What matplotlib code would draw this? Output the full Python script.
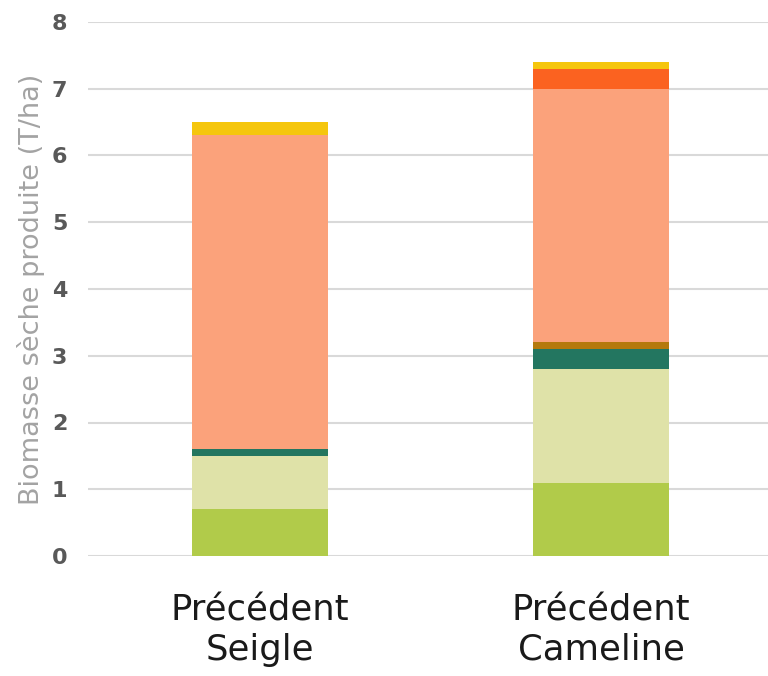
import matplotlib
matplotlib.use("Agg")
import matplotlib.pyplot as plt
import numpy as np

categories = ["Précédent\nSeigle", "Précédent\nCameline"]
segment_colors = ["#b1cb4a", "#dfe2a8", "#237660", "#b5790c", "#fba27b", "#fb6220", "#f5c60d"]
seg1 = [0.7, 1.1]   # green
seg2 = [0.8, 1.7]   # pale
seg3 = [0.1, 0.3]   # dark green
seg4 = [0.0, 0.1]   # brown
seg5 = [4.7, 3.8]   # salmon
seg6 = [0.0, 0.3]   # orange
seg7 = [0.2, 0.1]   # yellow
series = [seg1, seg2, seg3, seg4, seg5, seg6, seg7]
yticks = [0, 1, 2, 3, 4, 5, 6, 7, 8]

plt.rcParams['font.family'] = ['DejaVu Sans']
fig = plt.figure(figsize=(7.68, 6.76), dpi=100)
ax = fig.add_axes([0.1146, 0.1775, 0.8854, 0.79])

x = np.arange(len(categories))
bottom = np.zeros(len(categories))
for vals, col in zip(series, segment_colors):
    v = np.array(vals)
    ax.bar(x, v, bottom=bottom, width=0.4, color=col, edgecolor='none', zorder=3)
    bottom += v

ax.set_ylim(0, 8)
ax.set_xlim(-0.505, 1.49)
ax.set_yticks(yticks)
ax.set_yticklabels([str(t) for t in yticks], fontsize=16, fontweight='bold', color='#595959')
ax.set_xticks(x)
ax.set_xticklabels(categories, fontsize=25.5, color='#1a1a1a', linespacing=1.2)
ax.yaxis.grid(True, color='#d9d9d9', linewidth=1.5, zorder=0)
ax.set_axisbelow(True)
for s in ax.spines.values():
    s.set_visible(False)
ax.tick_params(axis='both', length=0)
ax.tick_params(axis='y', pad=15)
ax.tick_params(axis='x', pad=27)
ax.set_ylabel("Biomasse sèche produite (T/ha)", fontsize=19.5, color='#a3a3a3', labelpad=5)

fig.savefig("out.png", dpi=100)
